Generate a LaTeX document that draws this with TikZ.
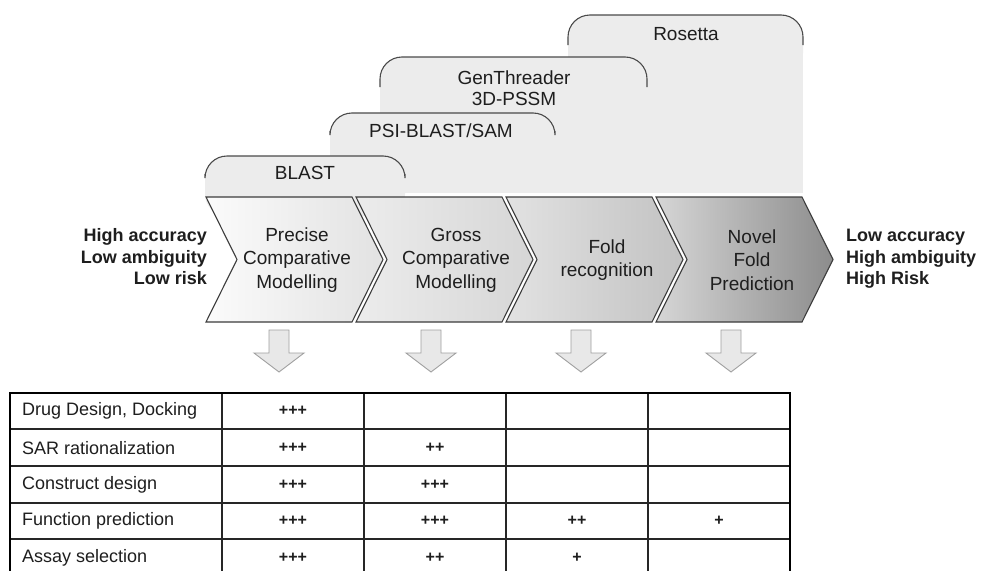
\documentclass[tikz,border=0pt]{standalone}
\usepackage{fontspec}
\setmainfont{Liberation Sans}
\definecolor{txt}{HTML}{1E1E1E}
\definecolor{tabgray}{HTML}{ECECEC}
\definecolor{tabline}{HTML}{4A4A4A}
\definecolor{chevline}{HTML}{3C3C3C}
\definecolor{cA}{HTML}{FBFBFB}
\definecolor{cB}{HTML}{E2E2E2}
\definecolor{cC}{HTML}{ECECEC}
\definecolor{cD}{HTML}{D6D6D6}
\definecolor{cE}{HTML}{E2E2E2}
\definecolor{cF}{HTML}{C2C2C2}
\definecolor{cG}{HTML}{D6D6D6}
\definecolor{cH}{HTML}{8C8C8C}
\definecolor{arrowfill}{HTML}{E8E8E8}
\definecolor{arrowline}{HTML}{A0A0A0}
\begin{document}
\begin{tikzpicture}[x=1pt,y=-1pt,
  tabfill/.style={fill=tabgray},
  tabedge/.style={draw=tabline, line width=1.1pt, rounded corners=22pt},
  toplabel/.style={font=\fontsize{19}{21}\selectfont, text=txt, align=center, inner sep=0pt},
  chevbox/.style={draw=chevline, line width=1.1pt},
  chevlabel/.style={font=\fontsize{19}{23.5}\selectfont, text=txt, align=center, inner sep=0pt},
  sidelabel/.style={font=\bfseries\fontsize{18}{21.5}\selectfont, text=txt, inner sep=0pt},
  downarrow/.style={fill=arrowfill, draw=arrowline, line width=0.9pt, line join=miter},
  rowlabel/.style={font=\fontsize{18}{20}\selectfont, text=txt, anchor=west, inner sep=0pt},
  plusmark/.style={font=\bfseries\fontsize{16}{18}\selectfont, text=txt, inner sep=0pt},
  outerframe/.style={draw=black, line width=2.6pt},
  innerline/.style={draw=black!85, line width=1.3pt}
]
\useasboundingbox (0,0) rectangle (982,570);
\clip (0,0) rectangle (982,570);
\fill[white] (0,0) rectangle (982,570);

% ---------- tool tabs (gray regions) ----------
\foreach \l/\r/\t in {568/803/15, 380/647/57, 330/555/113, 205/405/156}{
  \fill[tabfill, rounded corners=22pt] (\l,\t+60) -- (\l,\t) -- (\r,\t) -- (\r,\t+60) -- cycle;
  \fill[tabfill] (\l,\t+30) rectangle (\r,193);
}
\foreach \l/\r/\t/\s in {568/803/15/45, 380/647/57/87, 330/555/113/131, 205/405/156/174}{
  \draw[tabedge] (\l,\s) -- (\l,\t) -- (\r,\t) -- (\r,\s);
}
\node[toplabel] (rosetta) at (686,34) {Rosetta};
\node[toplabel] (genthreader) at (514,88) {GenThreader\\3D-PSSM};
\node[toplabel] (psiblast) at (441,131) {PSI-BLAST/SAM};
\node[toplabel] (blast) at (305,173) {BLAST};

% ---------- chevrons ----------
\foreach \L/\ca/\cb in {206/cA/cB, 356/cC/cD, 506/cE/cF, 656/cG/cH}{
  \path[chevbox, left color=\ca, right color=\cb]
    (\L,197) -- ++(146,0) -- ++(31,62.5) -- ++(-31,62.5) -- ++(-146,0) -- ++(31,-62.5) -- cycle;
}
\node[chevlabel] (precise) at (297,260) {Precise\\Comparative\\Modelling};
\node[chevlabel] (gross) at (456,260) {Gross\\Comparative\\Modelling};
\node[chevlabel] (fold) at (607,260) {Fold\\recognition};
\node[chevlabel] (novel) at (752,260) {Novel\\Fold\\Prediction};

% ---------- side labels ----------
\node[sidelabel, anchor=east, align=right] (left) at (207,257) {High accuracy\\Low ambiguity\\Low risk};
\node[sidelabel, anchor=west, align=left] (right) at (846,259) {Low accuracy\\High ambiguity\\High Risk};

% ---------- down arrows ----------
\foreach \c in {279,431,581,731}{
  \path[downarrow] (\c-10,330) -- (\c+10,330) -- (\c+10,353) -- (\c+25,353)
    -- (\c,372) -- (\c-25,353) -- (\c-10,353) -- cycle;
}

% ---------- table ----------
\foreach \y in {429,466,503,539}{
  \draw[innerline] (10,\y) -- (790,\y);
}
\foreach \x in {222,364,506,648}{
  \draw[innerline] (\x,393) -- (\x,576);
}
\draw[outerframe] (10,393) rectangle (790,576);

\node[rowlabel] (r1) at (22,411) {Drug Design, Docking};
\node[rowlabel] (r2) at (22,448) {SAR rationalization};
\node[rowlabel] (r3) at (22,485) {Construct design};
\node[rowlabel] (r4) at (22,521) {Function prediction};
\node[rowlabel] (r5) at (22,558) {Assay selection};

\node[plusmark] (p11) at (293,411) {+++};
\node[plusmark] (p21) at (293,448) {+++};
\node[plusmark] (p22) at (435,448) {++};
\node[plusmark] (p31) at (293,485) {+++};
\node[plusmark] (p32) at (435,485) {+++};
\node[plusmark] (p41) at (293,521) {+++};
\node[plusmark] (p42) at (435,521) {+++};
\node[plusmark] (p43) at (577,521) {++};
\node[plusmark] (p44) at (719,521) {+};
\node[plusmark] (p51) at (293,558) {+++};
\node[plusmark] (p52) at (435,558) {++};
\node[plusmark] (p53) at (577,558) {+};
\end{tikzpicture}
\end{document}
